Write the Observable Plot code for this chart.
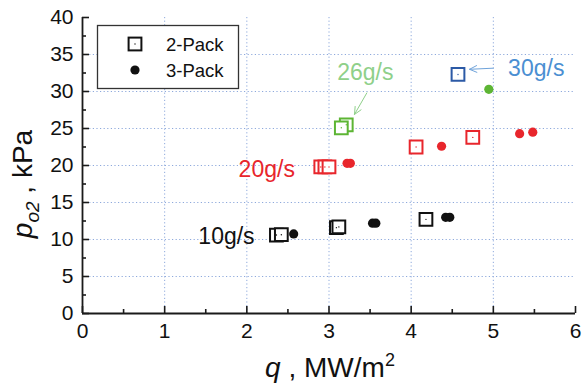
<!DOCTYPE html>
<html>
<head>
<meta charset="utf-8">
<script src="https://cdn.jsdelivr.net/npm/d3@7"></script>
<script src="https://cdn.jsdelivr.net/npm/@observablehq/plot@0.6"></script>
<style>
  html, body { margin: 0; padding: 0; background: #fff; }
  #chart svg { display: block; }
</style>
</head>
<body>
<div id="chart"></div>
<script>
// Oxygen partial pressure p_o2 (kPa) against heat flux q (MW/m²)
// 2-Pack measurements (open squares)
const pack2Q    = [2.36, 2.42, 3.09, 3.12, 4.18, 2.90, 2.95, 3.00, 4.06, 4.75, 3.21, 3.15, 4.57];
const pack2P    = [10.6, 10.65, 11.6, 11.7, 12.72, 19.8, 19.8, 19.8, 22.5, 23.8, 25.5, 25.1, 32.3];
const pack2Flow = ["10g/s", "10g/s", "10g/s", "10g/s", "10g/s", "20g/s", "20g/s", "20g/s", "20g/s", "20g/s", "26g/s", "26g/s", "30g/s"];

// 3-Pack measurements (filled dots)
const pack3Q    = [2.57, 3.53, 3.57, 4.42, 4.47, 3.22, 3.26, 4.37, 5.32, 5.48, 4.945];
const pack3P    = [10.75, 12.2, 12.2, 13.0, 13.0, 20.3, 20.3, 22.6, 24.3, 24.5, 30.3];
const pack3Flow = ["10g/s", "10g/s", "10g/s", "10g/s", "10g/s", "20g/s", "20g/s", "20g/s", "20g/s", "20g/s", "26g/s"];

// Flow-rate labels and their pointer arrows
const labelText = ["10g/s", "20g/s", "26g/s", "30g/s"];
const labelQ    = [1.41, 1.90, 3.10, 5.18];
const labelP    = [10.35, 19.5, 32.6, 33.1];
const arrowFlow = ["26g/s", "30g/s"];
const arrowQ1   = [3.46, 5.00];
const arrowP1   = [29.8, 33.15];
const arrowQ2   = [3.31, 4.71];
const arrowP2   = [26.9, 33.0];

// Axis ticks
const xMajor = [0, 1, 2, 3, 4, 5, 6];
const xMinor = [0.5, 1.5, 2.5, 3.5, 4.5, 5.5];
const yMajor = [0, 5, 10, 15, 20, 25, 30, 35, 40];
const yMinor = [2.5, 7.5, 12.5, 17.5, 22.5, 27.5, 32.5, 37.5];
const xGrid  = [1, 2, 3, 4, 5];
const yGrid  = [5, 10, 15, 20, 25, 30, 35];

const markColor  = {"10g/s": "#111111", "20g/s": "#e8262c", "26g/s": "#5db534", "30g/s": "#2c5aa6"};
const labelColor = {"10g/s": "#111111", "20g/s": "#e8262c", "26g/s": "#8fd08a", "30g/s": "#4b8fd2"};
const arrowColor = {"26g/s": "#8fd08a", "30g/s": "#6fa3da"};

const pack2 = pack2Q.map((q, i) => ({q, p: pack2P[i], flow: pack2Flow[i]}));
const pack3 = pack3Q.map((q, i) => ({q, p: pack3P[i], flow: pack3Flow[i]}));
const labels = labelText.map((t, i) => ({t, q: labelQ[i], p: labelP[i]}));
const arrows = arrowFlow.map((f, i) => ({f, q1: arrowQ1[i], p1: arrowP1[i], q2: arrowQ2[i], p2: arrowP2[i]}));

const W = 582, H = 385;
const mT = 17, mR = 7, mB = 72, mL = 82;
const frameW = W - mL - mR, frameH = H - mT - mB;
const axisInk = "#1a1a1a";
const gridInk = "#8ea9dc";
const font = "'Liberation Sans', Arial, Helvetica, sans-serif";

const chart = Plot.plot({
  width: W,
  height: H,
  marginTop: mT,
  marginRight: mR,
  marginBottom: mB,
  marginLeft: mL,
  x: {domain: [0, 6]},
  y: {domain: [0, 40]},
  color: {type: "identity"},
  style: {fontFamily: font, fontSize: "21px", color: "#111", background: "#fff", overflow: "visible"},
  marks: [
    // dotted grid
    Plot.ruleX(xGrid, {stroke: gridInk, strokeWidth: 1, strokeDasharray: "1.2,2.4"}),
    Plot.ruleY(yGrid, {stroke: gridInk, strokeWidth: 1, strokeDasharray: "1.2,2.4"}),
    // inward ticks
    Plot.ruleX(xMajor, {insetTop: frameH - 7, stroke: axisInk, strokeWidth: 1.6}),
    Plot.ruleX(xMinor, {insetTop: frameH - 4, stroke: axisInk, strokeWidth: 1.6}),
    Plot.ruleY(yMajor, {insetRight: frameW - 7, stroke: axisInk, strokeWidth: 1.6}),
    Plot.ruleY(yMinor, {insetRight: frameW - 4, stroke: axisInk, strokeWidth: 1.6}),
    // axis lines
    Plot.ruleY([0], {stroke: axisInk, strokeWidth: 1.8}),
    Plot.ruleX([0], {stroke: axisInk, strokeWidth: 1.8}),
    // tick labels
    Plot.axisX({ticks: xMajor, tickSize: 0, tickPadding: 10, tickFormat: d => String(d), label: null, fontSize: 21}),
    Plot.axisY({ticks: yMajor, tickSize: 0, tickPadding: 9, tickFormat: d => String(d), label: null, fontSize: 21}),
    // 2-Pack squares with their centre point
    Plot.dot(pack2, {x: "q", y: "p", symbol: "square", r: 7.2, fill: "#fff", stroke: d => markColor[d.flow], strokeWidth: 2}),
    Plot.dot(pack2, {x: "q", y: "p", r: 0.7, fill: d => markColor[d.flow], stroke: null}),
    // 3-Pack dots
    Plot.dot(pack3, {x: "q", y: "p", r: 4.6, fill: d => markColor[d.flow], stroke: null}),
    // flow-rate labels
    Plot.text(labels, {x: "q", y: "p", text: "t", textAnchor: "start", fontSize: 23, fill: d => labelColor[d.t]}),
    Plot.arrow(arrows, {x1: "q1", y1: "p1", x2: "q2", y2: "p2", stroke: d => arrowColor[d.f], strokeWidth: 1, headLength: 12, headAngle: 50})
  ]
});

const svg = d3.select(chart);

// x axis title: q , MW/m²
const xt = svg.append("text")
  .attr("x", 330).attr("y", 377)
  .attr("text-anchor", "middle")
  .attr("font-family", font).attr("font-size", 28).attr("fill", "#111");
xt.append("tspan").attr("font-style", "italic").text("q");
xt.append("tspan").text(" , MW/m");
xt.append("tspan").attr("font-size", 18).attr("dy", -11).text("2");

// y axis title: p_o2 , kPa
const yt = svg.append("text")
  .attr("transform", "translate(32,184) rotate(-90)")
  .attr("text-anchor", "middle")
  .attr("font-family", font).attr("font-size", 28).attr("fill", "#111");
yt.append("tspan").attr("font-style", "italic").text("p");
yt.append("tspan").attr("font-style", "italic").attr("font-size", 19).attr("dy", 7).text("o2");
yt.append("tspan").attr("dy", -7).text(" , kPa");

// legend box
const lg = svg.append("g").attr("font-family", font).attr("text-anchor", "start");
lg.append("rect").attr("x", 97.5).attr("y", 25.5).attr("width", 141).attr("height", 63)
  .attr("fill", "#fff").attr("stroke", "#333").attr("stroke-width", 1.3);
lg.append("rect").attr("x", 128.6).attr("y", 37.6).attr("width", 12.8).attr("height", 12.8)
  .attr("fill", "#fff").attr("stroke", "#111").attr("stroke-width", 2);
lg.append("circle").attr("cx", 135).attr("cy", 44).attr("r", 0.7).attr("fill", "#111");
lg.append("circle").attr("cx", 135).attr("cy", 70).attr("r", 4.6).attr("fill", "#111");
lg.append("text").attr("x", 166).attr("y", 50.5).attr("font-size", 18.5).attr("fill", "#111").attr("text-anchor", "start").text("2-Pack");
lg.append("text").attr("x", 166).attr("y", 76.5).attr("font-size", 18.5).attr("fill", "#111").attr("text-anchor", "start").text("3-Pack");

document.getElementById("chart").appendChild(chart);
</script>
</body>
</html>
